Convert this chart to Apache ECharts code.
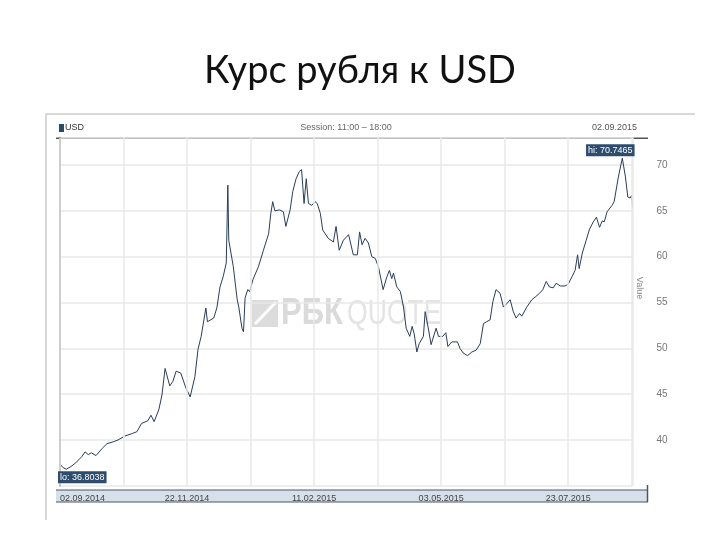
<!DOCTYPE html>
<html>
<head>
<meta charset="utf-8">
<script src="https://cdn.jsdelivr.net/npm/echarts@6/dist/echarts.min.js"></script>
<style>
html,body{margin:0;padding:0;background:#fff;}
#chart{width:720px;height:540px;}
</style>
</head>
<body>
<div id="chart"></div>
<script>
// Days counted from 02.09.2014
const days = [0,2,4,7,10,14,16,18,20,23,27,30,34,37,41,46,49,52,56,58,60,63,65,67,70,72,74,77,80,83,86,88,90,93,94,98,100,102,104,106,107,107.6,109,110.5,112,113,114,116,117,118,119.7,121,123,126.5,129.7,133,134.4,135.6,137,140,142.4,144,146.7,148.4,150.5,152.6,154,155.6,157,158.4,160.5,162.6,164,166,167.5,171,174.3,176,178,180.7,184,185,187,189.6,191,192.6,194.5,196.6,198.8,201,203,206,208.4,210,211.5,212.6,214.7,217,219,220.7,223,224.5,225.8,227.5,229,231.7,232.8,235,236.6,239.8,241.3,244,246,247.3,249.8,253.4,255,257,259.8,262.6,265.3,267.9,270,272,274.2,276,278,280.6,282.7,285,287,289,290.8,293,294.4,297.6,300.8,303,305.7,307.8,310,312,314.5,316.3,319,322,324,326.4,328.4,330,331,333,335.5,337.6,340,342,344,345.7,347,348.8,352,353.3,354,356,358.5,360.5,362,363.5,364.5,365];
const rates = [37.35,36.98,36.8038,37.1,37.5,38.2,38.7,38.4,38.6,38.3,39.1,39.6,39.8,40.0,40.4,40.7,40.9,41.8,42.1,42.7,42.0,43.3,44.9,47.8,45.9,46.4,47.5,47.3,45.8,44.7,46.9,49.9,51.3,54.4,52.9,53.3,54.4,56.7,57.8,59.3,67.8,61.8,60.4,58.9,56.7,55.3,54.5,52.2,51.8,55.5,56.4,56.2,57.5,58.9,60.7,62.5,64.7,66.0,65.0,65.1,64.9,63.3,65.1,67.1,68.5,69.3,69.5,65.8,68.5,65.8,65.6,66.0,65.8,64.7,62.9,62.0,61.6,63.3,60.7,61.8,62.4,62.5,60.2,60.2,62.7,61.3,62.0,61.5,60.0,59.8,58.9,56.4,57.8,58.5,57.6,58.2,56.7,56.2,54.5,52.2,51.3,52.4,51.6,49.6,50.5,51.3,54.0,52.0,50.4,52.2,51.3,51.3,51.7,50.2,50.7,50.7,50.0,49.5,49.2,49.6,49.8,50.5,52.7,52.9,53.1,55.1,56.4,56.0,54.5,54.9,55.3,54.0,53.3,53.8,53.5,54.5,55.3,55.6,56.0,56.4,57.3,56.7,56.6,57.1,56.8,56.8,57.0,57.8,58.5,60.2,58.7,60.4,61.8,63.0,63.8,64.3,63.2,63.9,63.8,64.9,65.6,66.0,66.2,68.7,70.7465,68.7,66.5,66.4,66.7,65.4];
const xTickLabels = ['02.09.2014','22.11.2014','11.02.2015','03.05.2015','23.07.2015'];
const xLabelStep = 81;
const yTickLabels = [40,45,50,55,60,65,70];

const seriesData = days.map((d,i)=>[d, rates[i]]);
const chart = echarts.init(document.getElementById('chart'));
const small = 'Liberation Sans';
const gridColor = '#e9e9e9';
chart.setOption({
  animation:false,
  backgroundColor:'#ffffff',
  title:{
    text:'Курс рубля к USD', left:'center', top:47,
    textStyle:{fontFamily:'Lato', fontSize:38, fontWeight:'normal', color:'#111'}
  },
  grid:{left:60, right:87.5, top:137.5, bottom:54.2},
  xAxis:{
    type:'value', min:0, max:365, interval:40.5,
    axisLine:{show:false}, axisTick:{show:false},
    splitLine:{show:true, lineStyle:{color:gridColor, width:1.5}},
    axisLabel:{
      margin:8, fontSize:9, color:'#444', fontFamily:small, alignMinLabel:'left',
      formatter:v=>{const k=v/xLabelStep; return Math.abs(k-Math.round(k))<1e-6 && xTickLabels[Math.round(k)] ? xTickLabels[Math.round(k)] : '';}
    },
    z:5
  },
  yAxis:{
    type:'value', position:'right', offset:15, min:35, max:73, interval:5,
    axisLine:{show:true, lineStyle:{color:'#555', width:1.5}}, axisTick:{show:false},
    splitLine:{show:true, lineStyle:{color:gridColor, width:1.5}},
    axisLabel:{margin:9, fontSize:10, color:'#777', fontFamily:small,
      formatter:v=> yTickLabels.indexOf(v)>=0 ? String(v) : ''}
  },
  graphic:{elements:[
    {type:'polyline', shape:{points:[[695,114],[46,114],[46,520]]}, style:{stroke:'#cccccc', lineWidth:1.5, fill:null}},
    {type:'rect', shape:{x:59,y:124,width:5,height:8}, style:{fill:'#2b4a6b'}},
    {type:'text', x:65, y:128, style:{text:'USD', fill:'#333', font:'9px "Liberation Sans"', verticalAlign:'middle'}},
    {type:'text', x:346, y:128, style:{text:'Session: 11:00 – 18:00', fill:'#666', font:'9px "Liberation Sans"', align:'center', verticalAlign:'middle'}},
    {type:'text', x:637, y:128, style:{text:'02.09.2015', fill:'#555', font:'9px "Liberation Sans"', align:'right', verticalAlign:'middle'}},
    {type:'line', shape:{x1:56,y1:138.3,x2:648,y2:138.3}, style:{stroke:'#555', lineWidth:1.5}},
    {type:'rect', z:-1, shape:{x:56,y:490,width:592,height:12}, style:{fill:'#d6e0ea'}},
    {type:'line', z:-1, shape:{x1:56,y1:490,x2:648,y2:490}, style:{stroke:'#4a5663', lineWidth:1.2}},
    {type:'line', z:-1, shape:{x1:56,y1:502,x2:648,y2:502}, style:{stroke:'#4a5663', lineWidth:1.2}},
    {type:'line', shape:{x1:647.5,y1:485,x2:647.5,y2:502}, style:{stroke:'#555', lineWidth:1.5}},
    {type:'text', x:639, y:288, rotation:-Math.PI/2, style:{text:'Value', fill:'#888', font:'9px "Liberation Sans"', align:'center', verticalAlign:'middle'}},
    {type:'rect', z:-1, shape:{x:252,y:300,width:26,height:27}, style:{fill:'#dcdcdc'}},
    {type:'line', z:-1, shape:{x1:255,y1:324,x2:276,y2:302}, style:{stroke:'#fff', lineWidth:3}},
    {type:'text', z:-1, x:281, y:314, scaleX:0.86, style:{text:'РБК', fill:'#dadada', font:'bold 36px "Liberation Sans"', verticalAlign:'middle'}},
    {type:'text', z:-1, x:347, y:314, scaleX:0.76, style:{text:'QUOTE', fill:'#e4e4e4', font:'normal 35px "Liberation Sans"', verticalAlign:'middle'}}
  ]},
  series:[{
    type:'line', data:seriesData, showSymbol:false, z:3,
    lineStyle:{color:'#2a3d57', width:1},
    markPoint:{
      symbol:'circle', symbolSize:0,
      label:{show:true, position:'inside', color:'#fff', fontSize:9, fontFamily:small,
        backgroundColor:'#2e4c6d', padding:[2,2,1,2]},
      data:[
        {type:'max', label:{formatter:p=>'hi: '+Number(p.value).toFixed(4), offset:[-12,-8]}},
        {type:'min', label:{formatter:p=>'lo: '+Number(p.value).toFixed(4), offset:[16,8]}}
      ]
    }
  }]
});
</script>
</body>
</html>
